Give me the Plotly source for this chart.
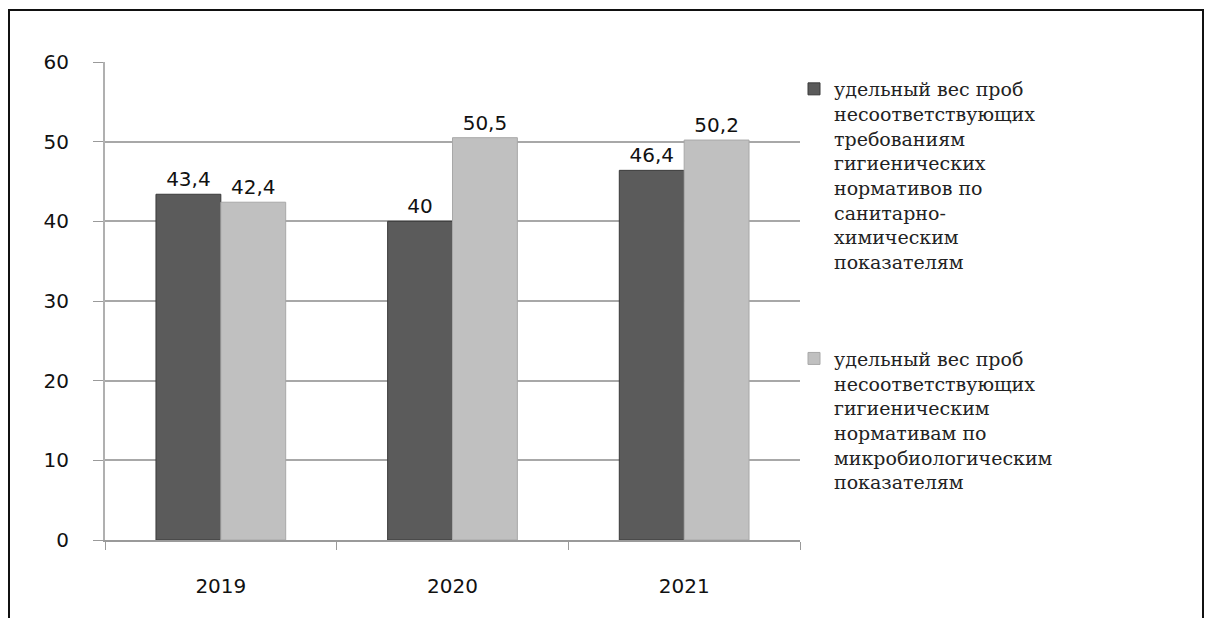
import plotly.graph_objects as go

years = ["2019", "2020", "2021"]
chem_values = [43.4, 40, 46.4]
micro_values = [42.4, 50.5, 50.2]
chem_name = "удельный вес проб<br>несоответствующих<br>требованиям<br>гигиенических<br>нормативов по<br>санитарно-<br>химическим<br>показателям"
micro_name = "удельный вес проб<br>несоответствующих<br>гигиеническим<br>нормативам по<br>микробиологическим<br>показателям"
y_ticks = [0, 10, 20, 30, 40, 50, 60]


def fmt(v):
    return (f"{v:g}").replace(".", ",")


fig = go.Figure()
fig.add_trace(go.Bar(
    x=years, y=chem_values, name=chem_name, legendgroup="chem",
    marker=dict(color="#5b5b5b", line=dict(color="#3a3a3a", width=1)),
    text=[fmt(v) for v in chem_values], textposition="outside",
    textfont=dict(family="DejaVu Sans", size=20, color="#111"),
    cliponaxis=False,
))
fig.add_trace(go.Bar(
    x=years, y=micro_values, name=micro_name, legendgroup="micro",
    marker=dict(color="#c0c0c0", line=dict(color="#a8a8a8", width=1)),
    text=[fmt(v) for v in micro_values], textposition="outside",
    textfont=dict(family="DejaVu Sans", size=20, color="#111"),
    cliponaxis=False,
))

L, R, T, B = 105, 800, 62, 540
W, H = 1205, 618
pw, ph = R - L, B - T

def px_x(x):
    return (x - L) / pw

def px_y(y):
    return (B - y) / ph

fig.update_layout(
    width=W, height=H,
    margin=dict(l=L, r=W - R, t=T, b=H - B),
    paper_bgcolor="white", plot_bgcolor="white",
    barmode="group", bargap=0.44, bargroupgap=0.0,
    font=dict(family="DejaVu Sans", size=20, color="#111"),
    showlegend=True,
    legend=dict(
        x=px_x(794), y=px_y(70), xanchor="left", yanchor="top",
        font=dict(family="DejaVu Serif", size=19, color="#222"),
        tracegroupgap=69, valign="top", itemwidth=30,
        bgcolor="rgba(0,0,0,0)",
    ),
    xaxis=dict(
        type="category", showline=True, linecolor="#9a9a9a", linewidth=2,
        ticks="outside", tickson="boundaries", ticklen=8, tickcolor="#9a9a9a",
        tickfont=dict(family="DejaVu Sans", size=20, color="#111"),
        ticklabelstandoff=27,
        showgrid=False,
    ),
    yaxis=dict(
        range=[0, 60], tickvals=y_ticks, showline=True, linecolor="#b0b0b0",
        linewidth=2, ticks="outside", ticklen=10, tickcolor="#9a9a9a",
        tickfont=dict(family="DejaVu Sans", size=20, color="#111"),
        ticklabelstandoff=20,
        showgrid=True, gridcolor="#a8a8a8", gridwidth=2, zeroline=False,
    ),
    shapes=[dict(
        type="rect", xref="paper", yref="paper",
        x0=px_x(9), x1=px_x(1203), y0=px_y(640), y1=px_y(10),
        line=dict(color="#111", width=2), fillcolor="rgba(0,0,0,0)",
        layer="below",
    )],
)

fig.write_html("out.html")
